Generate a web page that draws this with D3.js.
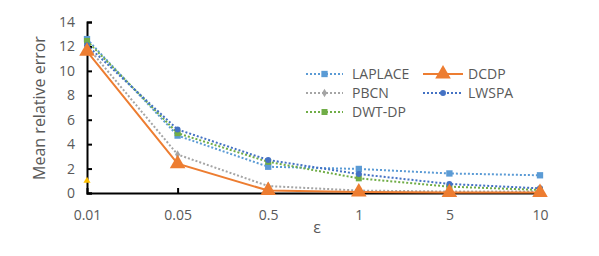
<!DOCTYPE html>
<html><head><meta charset="utf-8">
<script src="https://cdn.jsdelivr.net/npm/d3@7"></script>
<style>body{margin:0;background:#fff}svg{display:block}text{font-family:"Open Sans",sans-serif;fill:#595959}</style>
</head><body><svg id="c" width="599" height="256"></svg>
<script>
const categories = ["0.01","0.05","0.5","1","5","10"];
const laplace = [12.6, 4.7, 2.15, 1.97, 1.6, 1.45];
const dcdp    = [11.6, 2.4, 0.2, 0.08, 0.05, 0.05];
const pbcn    = [12.0, 3.15, 0.57, 0.2, 0.12, 0.12];
const lwspa   = [12.1, 5.2, 2.7, 1.55, 0.74, 0.38];
const dwtdp   = [12.45, 4.9, 2.55, 1.2, 0.52, 0.25];
const extra   = [1.0];
const yTicks = [0,2,4,6,8,10,12,14];

const series = [
  {name:"LAPLACE", values:laplace, color:"#5B9BD5", dash:"2 2", marker:"square", size:40, col:0, row:0},
  {name:"DCDP", values:dcdp, color:"#ED7D31", dash:null, marker:"triangle", size:105, col:1, row:0},
  {name:"PBCN", values:pbcn, color:"#A5A5A5", dash:"2 2", marker:"diamond", size:22, col:0, row:1},
  {name:"LWSPA", values:lwspa, color:"#4472C4", dash:"2 2", marker:"circle", size:28, col:1, row:1},
  {name:"DWT-DP", values:dwtdp, color:"#70AD47", dash:"2 2", marker:"square", size:36, col:0, row:2}
];
const svg = d3.select("#c");
const x = d3.scalePoint().domain(categories).range([87,540]);
const y = d3.scaleLinear().domain([0,14]).range([193,22]);
const sym = {square:d3.symbolSquare, triangle:d3.symbolTriangle, diamond:d3.symbolDiamond, circle:d3.symbolCircle};

// axes
const yAxis = svg.append("g").attr("transform","translate(87,0)")
  .call(d3.axisLeft(y).tickValues(yTicks).tickSize(-5).tickPadding(12));
yAxis.select(".domain").attr("stroke","#000").attr("stroke-width",2);
yAxis.selectAll(".tick line").attr("stroke","#000").attr("stroke-width",2);
yAxis.selectAll("text").attr("font-size",14).style("fill","#595959");

const xAxis = svg.append("g").attr("transform","translate(0,193)")
  .call(d3.axisBottom(x).tickSize(-5).tickPadding(17));
xAxis.select(".domain").attr("stroke","#000").attr("stroke-width",2);
xAxis.selectAll(".tick line").attr("stroke","#000").attr("stroke-width",2);
xAxis.selectAll("text").attr("font-size",14).style("fill","#595959");
xAxis.selectAll(".tick").filter((d,i)=>i===0).select("line").remove();

svg.append("text").attr("transform","translate(45,108) rotate(-90)").attr("text-anchor","middle")
  .attr("font-size",16).text("Mean relative error");
svg.append("text").attr("x",317).attr("y",233).attr("text-anchor","middle").attr("font-size",16).text("ε");

const line = d3.line().x((d,i)=>x(categories[i])).y(d=>y(d));
// draw order: dotted first, DCDP last
const order = [0,2,4,3,1];
order.forEach(k=>{
  const s = series[k];
  svg.append("path").attr("d",line(s.values)).attr("fill","none").attr("stroke",s.color)
    .attr("stroke-width",2).attr("stroke-dasharray",s.dash);
  svg.selectAll(null).data(s.values).enter().append("path")
    .attr("transform",(d,i)=>`translate(${x(categories[i])},${y(d)})`)
    .attr("d",d3.symbol().type(sym[s.marker]).size(s.size)).attr("fill",s.color);
});
svg.selectAll(null).data(extra).enter().append("path")
  .attr("transform",(d,i)=>`translate(${x(categories[i])},${y(d)})`)
  .attr("d",d3.symbol().type(d3.symbolTriangle).size(22)).attr("fill","#FFC000");

// legend
const colX = [[306,343,352],[423,463,468]];
const rowY = [74,93,112];
series.forEach(s=>{
  const [x1,x2,tx] = colX[s.col]; const yy = rowY[s.row];
  const g = svg.append("g");
  g.append("line").attr("x1",x1).attr("x2",x2).attr("y1",yy).attr("y2",yy).attr("stroke",s.color)
    .attr("stroke-width",2).attr("stroke-dasharray",s.dash);
  g.append("path").attr("transform",`translate(${(x1+x2)/2},${yy})`)
    .attr("d",d3.symbol().type(sym[s.marker]).size(s.size)).attr("fill",s.color);
  g.append("text").attr("x",tx).attr("y",yy).attr("dy","0.36em").attr("font-size",14).text(s.name);
});
</script></body></html>
